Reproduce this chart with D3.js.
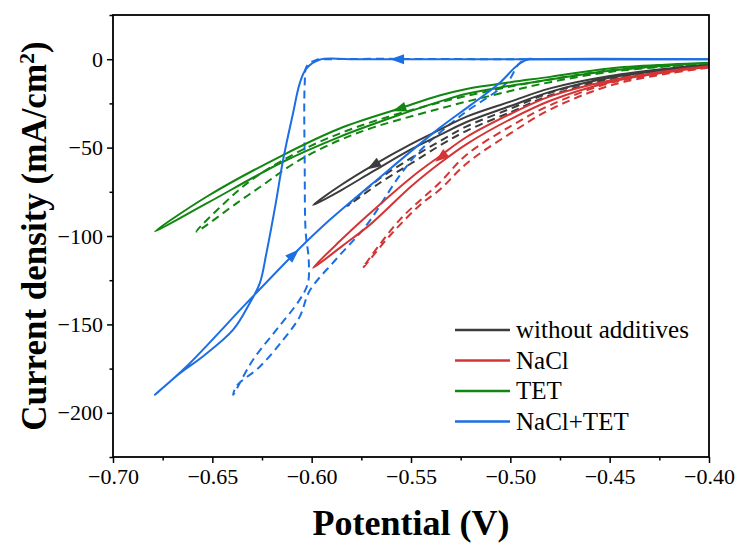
<!DOCTYPE html>
<html>
<head>
<meta charset="utf-8">
<script src="https://cdn.jsdelivr.net/npm/d3@7"></script>
<style>
  html, body { margin: 0; padding: 0; background: #fff; }
  svg { display: block; }
  text { font-family: "Liberation Serif", "Times New Roman", serif; fill: #000; }
</style>
</head>
<body>
<svg id="chart" width="739" height="543"></svg>
<script>
// Axis ticks
const xTicks = [-0.70, -0.65, -0.60, -0.55, -0.50, -0.45, -0.40];
const yTicks = [0, -50, -100, -150, -200];
const xMinor = [-0.675, -0.625, -0.575, -0.525, -0.475, -0.425];
const yMinor = [25, -25, -75, -125, -175, -225];

// Series names and colours
const seriesNames = ["without additives", "NaCl", "TET", "NaCl+TET"];
const seriesColors = ["#3c3c3c", "#d43434", "#118611", "#1c6ee4"];

// Polarisation scans: [potential V, current density mA/cm2]
const bareSolid = [
  [-0.40,-3.2],[-0.42,-5.2],[-0.45,-9.5],[-0.48,-16.5],[-0.50,-24],[-0.522,-32.5],[-0.5357,-40],
  [-0.55,-48],[-0.5692,-60],[-0.585,-71],[-0.5993,-82.5],
  [-0.585,-74],[-0.5692,-63.5],[-0.55,-51],[-0.5357,-43],[-0.522,-35.5],[-0.50,-26.5],
  [-0.48,-18.5],[-0.45,-10.5],[-0.42,-5.8],[-0.40,-3.5]
];
const bareDashed = [
  [-0.40,-3.5],[-0.42,-5.8],[-0.45,-10.5],[-0.48,-19],[-0.50,-28],[-0.522,-38],[-0.5357,-46.5],
  [-0.55,-56],[-0.5658,-67.5],[-0.582,-83],
  [-0.5658,-70],[-0.55,-59],[-0.5357,-49],[-0.522,-40.5],[-0.50,-30],[-0.48,-20.5],
  [-0.45,-11.5],[-0.42,-6.2],[-0.40,-3.8]
];
const naclSolid = [
  [-0.40,-4],[-0.42,-6.5],[-0.45,-12],[-0.48,-21],[-0.50,-31],[-0.522,-44],[-0.5357,-55],
  [-0.55,-67],[-0.5725,-89],[-0.5859,-103],[-0.5993,-118],
  [-0.585,-106],[-0.57,-93],[-0.55,-72],[-0.5357,-59],[-0.522,-48],[-0.50,-34],
  [-0.48,-23.5],[-0.45,-13],[-0.42,-7.2],[-0.40,-4.4]
];
const naclDashed = [
  [-0.40,-4.4],[-0.42,-7.5],[-0.45,-13.5],[-0.48,-26],[-0.50,-38],[-0.522,-54],[-0.5357,-70],
  [-0.5558,-91],[-0.5742,-118],
  [-0.56,-99],[-0.545,-82],[-0.5357,-74],[-0.522,-59],[-0.50,-42],[-0.48,-28.5],
  [-0.45,-15],[-0.42,-8],[-0.40,-4.8]
];
const tetSolid = [
  [-0.40,-2],[-0.42,-3],[-0.45,-5.2],[-0.48,-10],[-0.50,-13],[-0.522,-16.8],[-0.5357,-20.5],
  [-0.5558,-27.9],[-0.5859,-39.2],[-0.6144,-54.2],[-0.6529,-77.8],[-0.6789,-97.5],
  [-0.6529,-81.6],[-0.6144,-58],[-0.5859,-43.9],[-0.5558,-31.5],[-0.5357,-24],[-0.522,-19.5],
  [-0.50,-15],[-0.48,-11.5],[-0.45,-6.5],[-0.42,-3.5],[-0.40,-2.3]
];
const tetDashed = [
  [-0.40,-2.3],[-0.42,-3.8],[-0.45,-6.3],[-0.48,-11.5],[-0.50,-15.5],[-0.5357,-24.5],
  [-0.5776,-38.5],[-0.606,-52],[-0.626,-65],[-0.6377,-75],[-0.658,-97.5],
  [-0.6377,-81.4],[-0.626,-72.3],[-0.606,-57],[-0.5776,-42],[-0.5357,-28],[-0.50,-18],
  [-0.48,-13],[-0.45,-7.2],[-0.42,-4],[-0.40,-2.5]
];
const mixSolid = [
  [-0.40,0],[-0.50,0],[-0.58,0],[-0.596,-0.3],[-0.6027,-5.3],[-0.606,-13.7],[-0.6094,-30.7],
  [-0.6144,-57],[-0.6178,-79.7],[-0.6228,-109.8],[-0.6261,-126.7],[-0.6312,-138],
  [-0.6395,-153],[-0.6546,-168],[-0.6663,-177.6],[-0.6789,-189.8],
  [-0.663,-173.8],[-0.6328,-138],[-0.6094,-110.7],[-0.591,-91],[-0.5692,-70.2],
  [-0.5357,-39],[-0.52,-26],[-0.505,-13],[-0.497,-4],[-0.492,-0.5],[-0.485,0],[-0.40,0]
];
const mixDashed = [
  [-0.40,0],[-0.50,0],[-0.59,0],[-0.598,-0.5],[-0.6025,-4],[-0.6035,-14],[-0.6035,-60],
  [-0.603,-98],[-0.6015,-113],[-0.6019,-126.7],[-0.606,-136],[-0.6177,-153],[-0.6295,-170],
  [-0.6395,-189.8],[-0.6379,-185],[-0.626,-173.8],[-0.6144,-158.8],[-0.606,-145.6],
  [-0.601,-131],[-0.5876,-113],[-0.5725,-94],[-0.5558,-66],[-0.5457,-52],[-0.525,-32],
  [-0.5015,-13],[-0.496,-3],[-0.492,0],[-0.486,0],[-0.40,0]
];

// Scan-direction arrows: [series index, at point, toward point]
const arrowSeries = [3, 2, 0, 1, 3];
const arrowAt = [[-0.557,0],[-0.556,-28.2],[-0.569,-60.2],[-0.535,-55.5],[-0.609,-110.4]];
const arrowToward = [[-0.60,0],[-0.5859,-39.4],[-0.585,-71],[-0.5725,-89],[-0.591,-91]];

const svg = d3.select("#chart");
const L = 113, R = 709, T = 15, B = 457;

const x = d3.scaleLinear().domain([-0.70, -0.40]).range([L, R]);
const y = d3.scaleLinear().domain([-225, 25]).range([B, T]);

const line = d3.line()
  .x(d => x(d[0])).y(d => y(d[1]))
  .curve(d3.curveCatmullRom.alpha(0.5));

const plot = svg.append("g");
plot.append("clipPath").attr("id", "clip")
  .append("rect").attr("x", L).attr("y", T).attr("width", R - L).attr("height", B - T);

const curves = [
  {d: bareDashed, s: 0, dash: true}, {d: naclDashed, s: 1, dash: true},
  {d: tetDashed, s: 2, dash: true}, {d: mixDashed, s: 3, dash: true},
  {d: bareSolid, s: 0, dash: false}, {d: naclSolid, s: 1, dash: false},
  {d: tetSolid, s: 2, dash: false}, {d: mixSolid, s: 3, dash: false}
];

const cg = plot.append("g").attr("clip-path", "url(#clip)");
curves.forEach(c => {
  cg.append("path")
    .attr("d", line(c.d))
    .attr("fill", "none")
    .attr("stroke", seriesColors[c.s])
    .attr("stroke-width", 2)
    .attr("stroke-linejoin", "round")
    .attr("stroke-dasharray", c.dash ? "8,5" : null);
});

// Arrowheads along the scans
arrowSeries.forEach((s, i) => {
  const px = x(arrowAt[i][0]), py = y(arrowAt[i][1]);
  const tx = x(arrowToward[i][0]), ty = y(arrowToward[i][1]);
  const ang = Math.atan2(ty - py, tx - px) * 180 / Math.PI;
  cg.append("path")
    .attr("d", "M7,0 L-7,-5 L-7,5 Z")
    .attr("transform", `translate(${px},${py}) rotate(${ang})`)
    .attr("fill", seriesColors[s]);
});

// Axes
const xAxis = d3.axisBottom(x).tickValues(xTicks).tickSize(6).tickPadding(5)
  .tickFormat(d => d3.format(".2f")(d).replace("-", "\u2212"));
const gx = svg.append("g").attr("transform", `translate(0,${B})`).call(xAxis);
const yAxis = d3.axisLeft(y).tickValues(yTicks).tickSize(6).tickPadding(4)
  .tickFormat(d => String(d).replace("-", "\u2212"));
const gy = svg.append("g").attr("transform", `translate(${L},0)`).call(yAxis);

const xm = svg.append("g").attr("transform", `translate(0,${B})`)
  .call(d3.axisBottom(x).tickValues(xMinor).tickSize(3.5).tickFormat(""));
const ym = svg.append("g").attr("transform", `translate(${L},0)`)
  .call(d3.axisLeft(y).tickValues(yMinor).tickSize(3.5).tickFormat(""));

[gx, gy, xm, ym].forEach(g => {
  g.attr("font-family", null).attr("font-size", null);
  g.select(".domain").remove();
  g.selectAll(".tick line").attr("stroke", "#000").attr("stroke-width", 1.5);
  g.selectAll(".tick text").attr("font-size", 22).attr("fill", "#000");
});

// Frame
svg.append("rect").attr("x", L).attr("y", T).attr("width", R - L).attr("height", B - T)
  .attr("fill", "none").attr("stroke", "#000").attr("stroke-width", 1.8);

// Axis titles
svg.append("text").attr("x", (L + R) / 2).attr("y", 535)
  .attr("text-anchor", "middle").attr("font-size", 36).attr("font-weight", "bold")
  .text("Potential (V)");

const yt = svg.append("text")
  .attr("transform", `translate(46,${(T + B) / 2}) rotate(-90)`)
  .attr("text-anchor", "middle").attr("font-size", 35).attr("font-weight", "bold");
yt.append("tspan").text("Current density (mA/cm");
yt.append("tspan").attr("baseline-shift", "super").attr("font-size", 22).text("2");
yt.append("tspan").text(")");

// Legend
const lg = svg.append("g");
seriesNames.forEach((n, i) => {
  const ly = 330 + i * 30.5;
  lg.append("line").attr("x1", 455).attr("x2", 510).attr("y1", ly).attr("y2", ly)
    .attr("stroke", seriesColors[i]).attr("stroke-width", 2.5);
  lg.append("text").attr("x", 516).attr("y", ly).attr("dy", "0.33em")
    .attr("font-size", 25).text(n);
});
</script>
</body>
</html>
